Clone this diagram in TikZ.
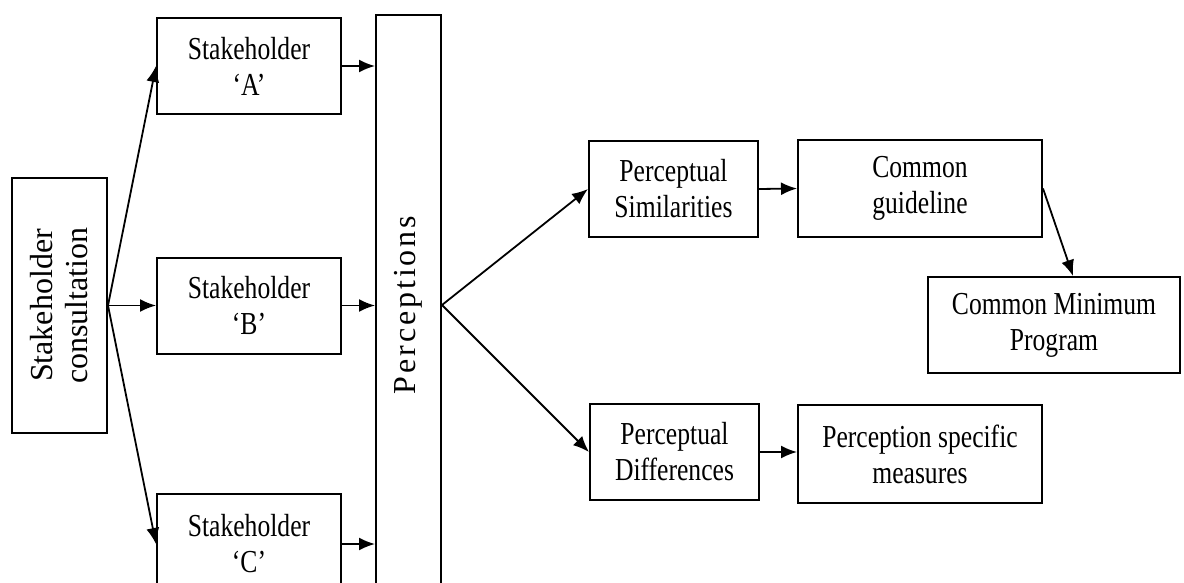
\documentclass[tikz,border=0pt]{standalone}
\usepackage{fontspec}
\setmainfont{Liberation Serif}
\newfontfamily\narrowfont[FakeStretch=0.8]{Liberation Serif}
\newfontfamily\spacedfont[LetterSpace=9]{Liberation Serif}
\usetikzlibrary{calc,arrows.meta}

\begin{document}
\begin{tikzpicture}
  [x=0.5pt,y=-0.5pt,
   box/.style={draw, line width=1pt, align=center, inner sep=2pt,
     minimum height=48pt, font=\narrowfont\fontsize{16}{18}\selectfont},
   upbox/.style={draw, line width=1pt, align=center, inner sep=2pt, rotate=90,
     font=\fontsize{16}{17.5}\selectfont},
   arr/.style={line width=0.9pt, -{Latex[length=8pt,width=6.5pt]}}]

  \newcommand{\narrowbox}{84.5pt}
  \newcommand{\widebox}{122pt}

  \useasboundingbox (0,0) rectangle (1184,583);
  \clip (0,0) rectangle (1184,583);

  \node (cons) at (59.5,305.5) [upbox, minimum width=127.5pt, minimum height=47.5pt]
    {Stakeholder\\consultation};

  \node (sa) at (249,66) [box, minimum width=92pt] {Stakeholder\\‘A’};
  \node (sb) at (249,305.5) [box, minimum width=92pt] {Stakeholder\\‘B’};
  \node (sc) at (249,544) [box, minimum width=92pt, minimum height=50pt] {Stakeholder\\‘C’};

  \node (perc) at (408.5,305) [upbox, minimum width=290pt, minimum height=32.5pt]
    {\spacedfont Perceptions};

  \node (sim) at (673.5,189) [box, minimum width=\narrowbox] {Perceptual\\Similarities};
  \node (guide) at (920,188.5) [box, minimum width=\widebox] {Common\\guideline};
  \node (cmp) at (1054,325) [box, minimum width=126pt] {Common Minimum\\Program};

  \node (diff) at (674.5,452) [box, minimum width=\narrowbox] {Perceptual\\Differences};
  \node (meas) at (920,454) [box, minimum width=\widebox, minimum height=49pt]
    {Perception specific\\measures};

  \draw[arr] (cons.south) -- (sa.west);
  \draw[arr] (cons.south) -- (sb.west);
  \draw[arr] (cons.south) -- (sc.west);

  \draw[arr] (sa.east) -- (sa.east -| perc.north);
  \draw[arr] (sb.east) -- (sb.east -| perc.north);
  \draw[arr] (sc.east) -- (sc.east -| perc.north);

  \draw[arr] (perc.south) -- (sim.west);
  \draw[arr] (perc.south) -- (diff.west);

  \draw[arr] (sim.east) -- (guide.west);
  \draw[arr] (guide.east) -- ([xshift=9.5pt]cmp.north);
  \draw[arr] (diff.east) -- (diff.east -| meas.west);

\end{tikzpicture}
\end{document}
